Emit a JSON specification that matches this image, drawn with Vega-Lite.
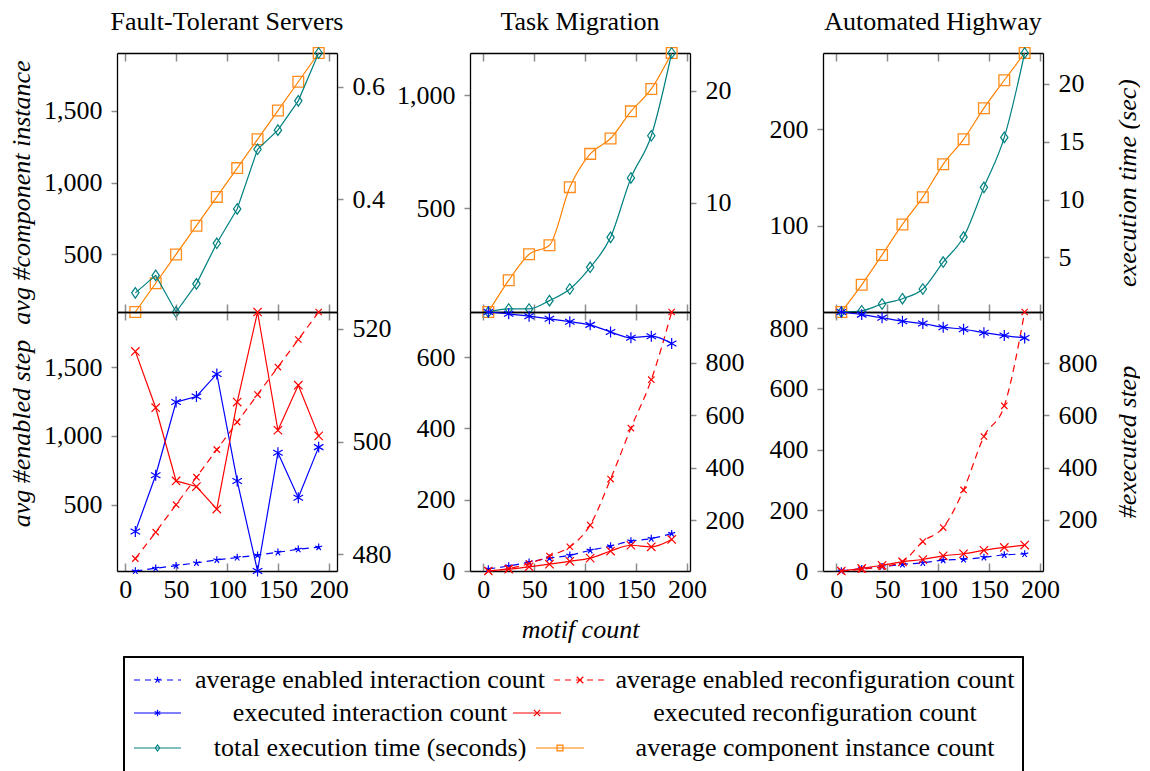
{
"$schema":"https://vega.github.io/schema/vega-lite/v6.json",
"autosize":{"type":"pad"},
"padding":{"left":7,"top":9,"right":0,"bottom":0},
"background":"white",
"config":{
 "font":"Liberation Serif",
 "view":{"stroke":null},
 "axis":{"labelFont":"Liberation Serif","labelFontSize":26,"labelColor":"black","titleFont":"Liberation Serif","titleFontSize":26,"titleFontStyle":"italic","titleFontWeight":"normal","titleColor":"black","domainColor":"black","domainWidth":1.3,"tickColor":"#8c8c8c","tickWidth":1.5,"grid":false,"labelFlush":false},
 "title":{"font":"Liberation Serif","fontSize":26,"fontWeight":"normal","color":"black","offset":10}
},
"data":{"values":[
{"p":"FTS","s":"comp","x":10,"v":100},{"p":"FTS","s":"comp","x":30,"v":300},{"p":"FTS","s":"comp","x":50,"v":500},{"p":"FTS","s":"comp","x":70,"v":700},{"p":"FTS","s":"comp","x":90,"v":900},{"p":"FTS","s":"comp","x":110,"v":1100},{"p":"FTS","s":"comp","x":130,"v":1300},{"p":"FTS","s":"comp","x":150,"v":1500},{"p":"FTS","s":"comp","x":170,"v":1700},{"p":"FTS","s":"comp","x":190,"v":1900},
{"p":"FTS","s":"time","x":10,"v":0.234},{"p":"FTS","s":"time","x":30,"v":0.265},{"p":"FTS","s":"time","x":50,"v":0.2},{"p":"FTS","s":"time","x":70,"v":0.25},{"p":"FTS","s":"time","x":90,"v":0.322},{"p":"FTS","s":"time","x":110,"v":0.383},{"p":"FTS","s":"time","x":130,"v":0.489},{"p":"FTS","s":"time","x":150,"v":0.523},{"p":"FTS","s":"time","x":170,"v":0.575},{"p":"FTS","s":"time","x":190,"v":0.66},
{"p":"FTS","s":"enInt","x":10,"v":18},{"p":"FTS","s":"enInt","x":30,"v":38},{"p":"FTS","s":"enInt","x":50,"v":57},{"p":"FTS","s":"enInt","x":70,"v":77},{"p":"FTS","s":"enInt","x":90,"v":99},{"p":"FTS","s":"enInt","x":110,"v":116},{"p":"FTS","s":"enInt","x":130,"v":133},{"p":"FTS","s":"enInt","x":150,"v":154},{"p":"FTS","s":"enInt","x":170,"v":176},{"p":"FTS","s":"enInt","x":190,"v":191},
{"p":"FTS","s":"enRec","x":10,"v":108},{"p":"FTS","s":"enRec","x":30,"v":300},{"p":"FTS","s":"enRec","x":50,"v":500},{"p":"FTS","s":"enRec","x":70,"v":700},{"p":"FTS","s":"enRec","x":90,"v":900},{"p":"FTS","s":"enRec","x":110,"v":1100},{"p":"FTS","s":"enRec","x":130,"v":1300},{"p":"FTS","s":"enRec","x":150,"v":1500},{"p":"FTS","s":"enRec","x":170,"v":1700},{"p":"FTS","s":"enRec","x":190,"v":1900},
{"p":"FTS","s":"exInt","x":10,"v":484},{"p":"FTS","s":"exInt","x":30,"v":494},{"p":"FTS","s":"exInt","x":50,"v":507},{"p":"FTS","s":"exInt","x":70,"v":508},{"p":"FTS","s":"exInt","x":90,"v":512},{"p":"FTS","s":"exInt","x":110,"v":493},{"p":"FTS","s":"exInt","x":130,"v":477},{"p":"FTS","s":"exInt","x":150,"v":498},{"p":"FTS","s":"exInt","x":170,"v":490},{"p":"FTS","s":"exInt","x":190,"v":499},
{"p":"FTS","s":"exRec","x":10,"v":516},{"p":"FTS","s":"exRec","x":30,"v":506},{"p":"FTS","s":"exRec","x":50,"v":493},{"p":"FTS","s":"exRec","x":70,"v":492},{"p":"FTS","s":"exRec","x":90,"v":488},{"p":"FTS","s":"exRec","x":110,"v":507},{"p":"FTS","s":"exRec","x":130,"v":523},{"p":"FTS","s":"exRec","x":150,"v":502},{"p":"FTS","s":"exRec","x":170,"v":510},{"p":"FTS","s":"exRec","x":190,"v":501},
{"p":"TM","s":"comp","x":5,"v":42},{"p":"TM","s":"comp","x":25,"v":182},{"p":"TM","s":"comp","x":45,"v":297},{"p":"TM","s":"comp","x":65,"v":337},{"p":"TM","s":"comp","x":85,"v":594},{"p":"TM","s":"comp","x":105,"v":741},{"p":"TM","s":"comp","x":125,"v":809},{"p":"TM","s":"comp","x":145,"v":929},{"p":"TM","s":"comp","x":165,"v":1028},{"p":"TM","s":"comp","x":185,"v":1187},
{"p":"TM","s":"time","x":5,"v":0.29},{"p":"TM","s":"time","x":25,"v":0.56},{"p":"TM","s":"time","x":45,"v":0.56},{"p":"TM","s":"time","x":65,"v":1.3},{"p":"TM","s":"time","x":85,"v":2.34},{"p":"TM","s":"time","x":105,"v":4.27},{"p":"TM","s":"time","x":125,"v":6.94},{"p":"TM","s":"time","x":145,"v":12.23},{"p":"TM","s":"time","x":165,"v":15.99},{"p":"TM","s":"time","x":185,"v":23.36},
{"p":"TM","s":"enInt","x":5,"v":6},{"p":"TM","s":"enInt","x":25,"v":14},{"p":"TM","s":"enInt","x":45,"v":25},{"p":"TM","s":"enInt","x":65,"v":36},{"p":"TM","s":"enInt","x":85,"v":44},{"p":"TM","s":"enInt","x":105,"v":58},{"p":"TM","s":"enInt","x":125,"v":70},{"p":"TM","s":"enInt","x":145,"v":84},{"p":"TM","s":"enInt","x":165,"v":91},{"p":"TM","s":"enInt","x":185,"v":105},
{"p":"TM","s":"enRec","x":5,"v":0},{"p":"TM","s":"enRec","x":25,"v":7},{"p":"TM","s":"enRec","x":45,"v":21},{"p":"TM","s":"enRec","x":65,"v":42},{"p":"TM","s":"enRec","x":85,"v":68},{"p":"TM","s":"enRec","x":105,"v":129},{"p":"TM","s":"enRec","x":125,"v":258},{"p":"TM","s":"enRec","x":145,"v":401},{"p":"TM","s":"enRec","x":165,"v":537},{"p":"TM","s":"enRec","x":185,"v":727},
{"p":"TM","s":"exInt","x":5,"v":993},{"p":"TM","s":"exInt","x":25,"v":986},{"p":"TM","s":"exInt","x":45,"v":977},{"p":"TM","s":"exInt","x":65,"v":967},{"p":"TM","s":"exInt","x":85,"v":956},{"p":"TM","s":"exInt","x":105,"v":944},{"p":"TM","s":"exInt","x":125,"v":917},{"p":"TM","s":"exInt","x":145,"v":895},{"p":"TM","s":"exInt","x":165,"v":901},{"p":"TM","s":"exInt","x":185,"v":873},
{"p":"TM","s":"exRec","x":5,"v":7},{"p":"TM","s":"exRec","x":25,"v":14},{"p":"TM","s":"exRec","x":45,"v":23},{"p":"TM","s":"exRec","x":65,"v":33},{"p":"TM","s":"exRec","x":85,"v":44},{"p":"TM","s":"exRec","x":105,"v":56},{"p":"TM","s":"exRec","x":125,"v":83},{"p":"TM","s":"exRec","x":145,"v":105},{"p":"TM","s":"exRec","x":165,"v":99},{"p":"TM","s":"exRec","x":185,"v":127},
{"p":"AH","s":"comp","x":5,"v":10.5},{"p":"AH","s":"comp","x":25,"v":38.7},{"p":"AH","s":"comp","x":45,"v":69.7},{"p":"AH","s":"comp","x":65,"v":101.4},{"p":"AH","s":"comp","x":85,"v":129.7},{"p":"AH","s":"comp","x":105,"v":163.8},{"p":"AH","s":"comp","x":125,"v":189.7},{"p":"AH","s":"comp","x":145,"v":222},{"p":"AH","s":"comp","x":165,"v":251},{"p":"AH","s":"comp","x":185,"v":279.3},
{"p":"AH","s":"time","x":5,"v":0.28},{"p":"AH","s":"time","x":25,"v":0.39},{"p":"AH","s":"time","x":45,"v":0.97},{"p":"AH","s":"time","x":65,"v":1.43},{"p":"AH","s":"time","x":85,"v":2.27},{"p":"AH","s":"time","x":105,"v":4.6},{"p":"AH","s":"time","x":125,"v":6.76},{"p":"AH","s":"time","x":145,"v":11.06},{"p":"AH","s":"time","x":165,"v":15.38},{"p":"AH","s":"time","x":185,"v":22.68},
{"p":"AH","s":"enInt","x":5,"v":0},{"p":"AH","s":"enInt","x":25,"v":7.7},{"p":"AH","s":"enInt","x":45,"v":14},{"p":"AH","s":"enInt","x":65,"v":22},{"p":"AH","s":"enInt","x":85,"v":27},{"p":"AH","s":"enInt","x":105,"v":36},{"p":"AH","s":"enInt","x":125,"v":38.5},{"p":"AH","s":"enInt","x":145,"v":45},{"p":"AH","s":"enInt","x":165,"v":53},{"p":"AH","s":"enInt","x":185,"v":56},
{"p":"AH","s":"enRec","x":5,"v":0},{"p":"AH","s":"enRec","x":25,"v":5.6},{"p":"AH","s":"enRec","x":45,"v":14},{"p":"AH","s":"enRec","x":65,"v":31},{"p":"AH","s":"enRec","x":85,"v":97},{"p":"AH","s":"enRec","x":105,"v":143},{"p":"AH","s":"enRec","x":125,"v":267},{"p":"AH","s":"enRec","x":145,"v":443},{"p":"AH","s":"enRec","x":165,"v":544},{"p":"AH","s":"enRec","x":185,"v":853},
{"p":"AH","s":"exInt","x":5,"v":995},{"p":"AH","s":"exInt","x":25,"v":985},{"p":"AH","s":"exInt","x":45,"v":973},{"p":"AH","s":"exInt","x":65,"v":960},{"p":"AH","s":"exInt","x":85,"v":951},{"p":"AH","s":"exInt","x":105,"v":937},{"p":"AH","s":"exInt","x":125,"v":929},{"p":"AH","s":"exInt","x":145,"v":916},{"p":"AH","s":"exInt","x":165,"v":905},{"p":"AH","s":"exInt","x":185,"v":896},
{"p":"AH","s":"exRec","x":5,"v":5},{"p":"AH","s":"exRec","x":25,"v":15},{"p":"AH","s":"exRec","x":45,"v":27},{"p":"AH","s":"exRec","x":65,"v":40},{"p":"AH","s":"exRec","x":85,"v":49},{"p":"AH","s":"exRec","x":105,"v":63},{"p":"AH","s":"exRec","x":125,"v":71},{"p":"AH","s":"exRec","x":145,"v":84},{"p":"AH","s":"exRec","x":165,"v":95},{"p":"AH","s":"exRec","x":185,"v":104}
]},
"columns":3,
"spacing":{"row":0,"column":133},
"bounds":"flush",
"align":"none",
"concat":[
  {"width":220,"height":259,"title":{"text":"Fault-Tolerant Servers"},
   "resolve":{"scale":{"y":"independent"},"axis":{"x":"independent"}},
   "layer":[
    {"encoding":{"x":{"field":"x","type":"quantitative","scale":{"domain":[-8,208],"nice":false,"zero":false},"axis":{"orient":"bottom","values":[0,50,100,150,200],"labels":false,"tickSize":-8,"title":null}},
                 "y":{"field":"v","type":"quantitative","scale":{"domain":[100,1900],"nice":false,"zero":false},"axis":{"orient":"left","values":[500,1000,1500],"format":",.0f","title":"avg #component instance","tickSize":6,"labelPadding":9,"minExtent":74,"maxExtent":74,"titlePadding":9,"titleY":139}}},
     "layer":[
      {"transform":[{"filter":"datum.p=='FTS'&&datum.s=='comp'"}],"layer":[{"mark":{"type":"line","color":"#ff8000","strokeWidth":1.2}},{"mark":{"type":"point","shape":"square","filled":false,"color":"#ff8c1a","size":115,"strokeWidth":1.3,"opacity":1}}]},
      {"data":{"values":[{"a":1}]},"mark":{"type":"point","shape":"M0,-1L0.75,0.9L0,0.35L-0.75,0.9Z","filled":true,"color":"black","size":45,"opacity":1},"encoding":{"x":{"datum":-8},"y":{"datum":1900}}}
     ]},
    {"encoding":{"x":{"field":"x","type":"quantitative","scale":{"domain":[-8,208],"nice":false,"zero":false},"axis":{"orient":"top","values":[0,50,100,150,200],"labels":false,"tickSize":-8,"title":null}},
                 "y":{"field":"v","type":"quantitative","scale":{"domain":[0.2,0.66],"nice":false,"zero":false},"axis":{"orient":"right","values":[0.4,0.6],"format":".1f","title":null,"tickSize":6,"labelPadding":9}}},
     "layer":[
      {"transform":[{"filter":"datum.p=='FTS'&&datum.s=='time'"}],"layer":[{"mark":{"type":"line","color":"#008080","strokeWidth":1.2}},{"mark":{"type":"point","shape":"M0,-1L0.7,0L0,1L-0.7,0Z","filled":false,"color":"#008080","size":110,"strokeWidth":1.2,"opacity":1}}]},
      {"data":{"values":[{"a":1}]},"mark":{"type":"point","shape":"M0,-1L0.75,0.9L0,0.35L-0.75,0.9Z","filled":true,"color":"black","size":45,"opacity":1},"encoding":{"x":{"datum":208},"y":{"datum":0.66}}}
     ]}
   ]},
  {"width":220,"height":259,"title":{"text":"Task Migration"},
   "resolve":{"scale":{"y":"independent"},"axis":{"x":"independent"}},
   "layer":[
    {"encoding":{"x":{"field":"x","type":"quantitative","scale":{"domain":[-13,203],"nice":false,"zero":false},"axis":{"orient":"bottom","values":[0,50,100,150,200],"labels":false,"tickSize":-8,"title":null}},
                 "y":{"field":"v","type":"quantitative","scale":{"domain":[42,1187],"nice":false,"zero":false},"axis":{"orient":"left","values":[500,1000],"format":",.0f","title":null,"tickSize":6,"labelPadding":9}}},
     "layer":[
      {"transform":[{"filter":"datum.p=='TM'&&datum.s=='comp'"}],"layer":[{"mark":{"type":"line","color":"#ff8000","strokeWidth":1.2,"interpolate":"monotone"}},{"mark":{"type":"point","shape":"square","filled":false,"color":"#ff8c1a","size":115,"strokeWidth":1.3,"opacity":1}}]},
      {"data":{"values":[{"a":1}]},"mark":{"type":"point","shape":"M0,-1L0.75,0.9L0,0.35L-0.75,0.9Z","filled":true,"color":"black","size":45,"opacity":1},"encoding":{"x":{"datum":-13},"y":{"datum":1187}}}
     ]},
    {"encoding":{"x":{"field":"x","type":"quantitative","scale":{"domain":[-13,203],"nice":false,"zero":false},"axis":{"orient":"top","values":[0,50,100,150,200],"labels":false,"tickSize":-8,"title":null}},
                 "y":{"field":"v","type":"quantitative","scale":{"domain":[0.29,23.36],"nice":false,"zero":false},"axis":{"orient":"right","values":[10,20],"title":null,"tickSize":6,"labelPadding":9}}},
     "layer":[
      {"transform":[{"filter":"datum.p=='TM'&&datum.s=='time'"}],"layer":[{"mark":{"type":"line","color":"#008080","strokeWidth":1.2,"interpolate":"monotone"}},{"mark":{"type":"point","shape":"M0,-1L0.7,0L0,1L-0.7,0Z","filled":false,"color":"#008080","size":110,"strokeWidth":1.2,"opacity":1}}]},
      {"data":{"values":[{"a":1}]},"mark":{"type":"point","shape":"M0,-1L0.75,0.9L0,0.35L-0.75,0.9Z","filled":true,"color":"black","size":45,"opacity":1},"encoding":{"x":{"datum":203},"y":{"datum":23.36}}}
     ]}
   ]},
  {"width":220,"height":259,"title":{"text":"Automated Highway"},
   "resolve":{"scale":{"y":"independent"},"axis":{"x":"independent"}},
   "layer":[
    {"encoding":{"x":{"field":"x","type":"quantitative","scale":{"domain":[-13,203],"nice":false,"zero":false},"axis":{"orient":"bottom","values":[0,50,100,150,200],"labels":false,"tickSize":-8,"title":null}},
                 "y":{"field":"v","type":"quantitative","scale":{"domain":[10.5,279.3],"nice":false,"zero":false},"axis":{"orient":"left","values":[100,200],"title":null,"tickSize":6,"labelPadding":9}}},
     "layer":[
      {"transform":[{"filter":"datum.p=='AH'&&datum.s=='comp'"}],"layer":[{"mark":{"type":"line","color":"#ff8000","strokeWidth":1.2,"interpolate":"monotone"}},{"mark":{"type":"point","shape":"square","filled":false,"color":"#ff8c1a","size":115,"strokeWidth":1.3,"opacity":1}}]},
      {"data":{"values":[{"a":1}]},"mark":{"type":"point","shape":"M0,-1L0.75,0.9L0,0.35L-0.75,0.9Z","filled":true,"color":"black","size":45,"opacity":1},"encoding":{"x":{"datum":-13},"y":{"datum":279.3}}}
     ]},
    {"encoding":{"x":{"field":"x","type":"quantitative","scale":{"domain":[-13,203],"nice":false,"zero":false},"axis":{"orient":"top","values":[0,50,100,150,200],"labels":false,"tickSize":-8,"title":null}},
                 "y":{"field":"v","type":"quantitative","scale":{"domain":[0.28,22.68],"nice":false,"zero":false},"axis":{"orient":"right","values":[5,10,15,20],"title":"execution time (sec)","titleAngle":270,"titleBaseline":"top","tickSize":6,"labelPadding":9,"minExtent":60,"maxExtent":60,"titlePadding":11}}},
     "layer":[
      {"transform":[{"filter":"datum.p=='AH'&&datum.s=='time'"}],"layer":[{"mark":{"type":"line","color":"#008080","strokeWidth":1.2,"interpolate":"monotone"}},{"mark":{"type":"point","shape":"M0,-1L0.7,0L0,1L-0.7,0Z","filled":false,"color":"#008080","size":110,"strokeWidth":1.2,"opacity":1}}]},
      {"data":{"values":[{"a":1}]},"mark":{"type":"point","shape":"M0,-1L0.75,0.9L0,0.35L-0.75,0.9Z","filled":true,"color":"black","size":45,"opacity":1},"encoding":{"x":{"datum":203},"y":{"datum":22.68}}}
     ]}
   ]},
  {"width":220,"height":259,
   "resolve":{"scale":{"y":"independent"},"axis":{"x":"independent"}},
   "layer":[
    {"encoding":{"x":{"field":"x","type":"quantitative","scale":{"domain":[-8,208],"nice":false,"zero":false},"axis":{"orient":"bottom","values":[0,50,100,150,200],"tickSize":-8,"labelPadding":13,"title":null}},
                 "y":{"field":"v","type":"quantitative","scale":{"domain":[18,1900],"nice":false,"zero":false},"axis":{"orient":"left","values":[500,1000,1500],"format":",.0f","title":"avg #enabled step","tickSize":6,"labelPadding":9,"minExtent":74,"maxExtent":74,"titlePadding":9,"titleY":121}}},
     "layer":[
      {"transform":[{"filter":"datum.p=='FTS'&&datum.s=='enInt'"}],"layer":[{"mark":{"type":"line","color":"#0000ff","strokeWidth":1.2,"strokeDash":[7,5]}},{"mark":{"type":"point","shape":"M0,0L0,-1M0,0L-0.95,-0.31M0,0L-0.59,0.81M0,0L0.59,0.81M0,0L0.95,-0.31","filled":false,"color":"#0000ff","size":55,"strokeWidth":1.2,"opacity":1}}]},
      {"transform":[{"filter":"datum.p=='FTS'&&datum.s=='enRec'"}],"layer":[{"mark":{"type":"line","color":"#ff0000","strokeWidth":1.2,"strokeDash":[7,5]}},{"mark":{"type":"point","shape":"M-1,-1L1,1M-1,1L1,-1","filled":false,"color":"#ff0000","size":40,"strokeWidth":1.2,"opacity":1}}]},
      {"data":{"values":[{"a":1}]},"mark":{"type":"point","shape":"M0,-1L0.75,0.9L0,0.35L-0.75,0.9Z","filled":true,"color":"black","size":45,"opacity":1},"encoding":{"x":{"datum":-8},"y":{"datum":1900}}}
     ]},
    {"encoding":{"x":{"field":"x","type":"quantitative","scale":{"domain":[-8,208],"nice":false,"zero":false},"axis":{"orient":"top","values":[0,50,100,150,200],"labels":false,"tickSize":-8,"title":null}},
                 "y":{"field":"v","type":"quantitative","scale":{"domain":[477,523],"nice":false,"zero":false},"axis":{"orient":"right","values":[480,500,520],"title":null,"tickSize":6,"labelPadding":9}}},
     "layer":[
      {"transform":[{"filter":"datum.p=='FTS'&&datum.s=='exInt'"}],"layer":[{"mark":{"type":"line","color":"#0000ff","strokeWidth":1.2}},{"mark":{"type":"point","shape":"M0,-1L0,1M-0.87,-0.5L0.87,0.5M-0.87,0.5L0.87,-0.5","filled":false,"color":"#0000ff","size":120,"strokeWidth":1.2,"opacity":1}}]},
      {"transform":[{"filter":"datum.p=='FTS'&&datum.s=='exRec'"}],"layer":[{"mark":{"type":"line","color":"#ff0000","strokeWidth":1.2}},{"mark":{"type":"point","shape":"M-1,-1L1,1M-1,1L1,-1","filled":false,"color":"#ff0000","size":70,"strokeWidth":1.2,"opacity":1}}]},
      {"data":{"values":[{"a":1}]},"mark":{"type":"point","shape":"M0,-1L0.75,0.9L0,0.35L-0.75,0.9Z","filled":true,"color":"black","size":45,"opacity":1},"encoding":{"x":{"datum":208},"y":{"datum":523}}}
     ]}
   ]},
  {"width":220,"height":259,
   "resolve":{"scale":{"y":"independent"},"axis":{"x":"independent"}},
   "layer":[
    {"encoding":{"x":{"field":"x","type":"quantitative","scale":{"domain":[-13,203],"nice":false,"zero":false},"axis":{"orient":"bottom","values":[0,50,100,150,200],"tickSize":-8,"labelPadding":13,"title":"motif count","titlePadding":14}},
                 "y":{"field":"v","type":"quantitative","scale":{"domain":[0,727],"nice":false,"zero":false},"axis":{"orient":"left","values":[0,200,400,600],"title":null,"tickSize":6,"labelPadding":9}}},
     "layer":[
      {"transform":[{"filter":"datum.p=='TM'&&datum.s=='enInt'"}],"layer":[{"mark":{"type":"line","color":"#0000ff","strokeWidth":1.2,"strokeDash":[7,5],"interpolate":"monotone"}},{"mark":{"type":"point","shape":"M0,0L0,-1M0,0L-0.95,-0.31M0,0L-0.59,0.81M0,0L0.59,0.81M0,0L0.95,-0.31","filled":false,"color":"#0000ff","size":55,"strokeWidth":1.2,"opacity":1}}]},
      {"transform":[{"filter":"datum.p=='TM'&&datum.s=='enRec'"}],"layer":[{"mark":{"type":"line","color":"#ff0000","strokeWidth":1.2,"strokeDash":[7,5],"interpolate":"monotone"}},{"mark":{"type":"point","shape":"M-1,-1L1,1M-1,1L1,-1","filled":false,"color":"#ff0000","size":40,"strokeWidth":1.2,"opacity":1}}]},
      {"data":{"values":[{"a":1}]},"mark":{"type":"point","shape":"M0,-1L0.75,0.9L0,0.35L-0.75,0.9Z","filled":true,"color":"black","size":45,"opacity":1},"encoding":{"x":{"datum":-13},"y":{"datum":727}}}
     ]},
    {"encoding":{"x":{"field":"x","type":"quantitative","scale":{"domain":[-13,203],"nice":false,"zero":false},"axis":{"orient":"top","values":[0,50,100,150,200],"labels":false,"tickSize":-8,"title":null}},
                 "y":{"field":"v","type":"quantitative","scale":{"domain":[7,993],"nice":false,"zero":false},"axis":{"orient":"right","values":[200,400,600,800],"title":null,"tickSize":6,"labelPadding":9}}},
     "layer":[
      {"transform":[{"filter":"datum.p=='TM'&&datum.s=='exInt'"}],"layer":[{"mark":{"type":"line","color":"#0000ff","strokeWidth":1.2,"interpolate":"monotone"}},{"mark":{"type":"point","shape":"M0,-1L0,1M-0.87,-0.5L0.87,0.5M-0.87,0.5L0.87,-0.5","filled":false,"color":"#0000ff","size":120,"strokeWidth":1.2,"opacity":1}}]},
      {"transform":[{"filter":"datum.p=='TM'&&datum.s=='exRec'"}],"layer":[{"mark":{"type":"line","color":"#ff0000","strokeWidth":1.2,"interpolate":"monotone"}},{"mark":{"type":"point","shape":"M-1,-1L1,1M-1,1L1,-1","filled":false,"color":"#ff0000","size":70,"strokeWidth":1.2,"opacity":1}}]},
      {"data":{"values":[{"a":1}]},"mark":{"type":"point","shape":"M0,-1L0.75,0.9L0,0.35L-0.75,0.9Z","filled":true,"color":"black","size":45,"opacity":1},"encoding":{"x":{"datum":203},"y":{"datum":993}}}
     ]}
   ]},
  {"width":220,"height":259,
   "resolve":{"scale":{"y":"independent"},"axis":{"x":"independent"}},
   "layer":[
    {"encoding":{"x":{"field":"x","type":"quantitative","scale":{"domain":[-13,203],"nice":false,"zero":false},"axis":{"orient":"bottom","values":[0,50,100,150,200],"tickSize":-8,"labelPadding":13,"title":null}},
                 "y":{"field":"v","type":"quantitative","scale":{"domain":[0,853],"nice":false,"zero":false},"axis":{"orient":"left","values":[0,200,400,600,800],"title":null,"tickSize":6,"labelPadding":9}}},
     "layer":[
      {"transform":[{"filter":"datum.p=='AH'&&datum.s=='enInt'"}],"layer":[{"mark":{"type":"line","color":"#0000ff","strokeWidth":1.2,"strokeDash":[7,5],"interpolate":"monotone"}},{"mark":{"type":"point","shape":"M0,0L0,-1M0,0L-0.95,-0.31M0,0L-0.59,0.81M0,0L0.59,0.81M0,0L0.95,-0.31","filled":false,"color":"#0000ff","size":55,"strokeWidth":1.2,"opacity":1}}]},
      {"transform":[{"filter":"datum.p=='AH'&&datum.s=='enRec'"}],"layer":[{"mark":{"type":"line","color":"#ff0000","strokeWidth":1.2,"strokeDash":[7,5],"interpolate":"monotone"}},{"mark":{"type":"point","shape":"M-1,-1L1,1M-1,1L1,-1","filled":false,"color":"#ff0000","size":40,"strokeWidth":1.2,"opacity":1}}]},
      {"data":{"values":[{"a":1}]},"mark":{"type":"point","shape":"M0,-1L0.75,0.9L0,0.35L-0.75,0.9Z","filled":true,"color":"black","size":45,"opacity":1},"encoding":{"x":{"datum":-13},"y":{"datum":853}}}
     ]},
    {"encoding":{"x":{"field":"x","type":"quantitative","scale":{"domain":[-13,203],"nice":false,"zero":false},"axis":{"orient":"top","values":[0,50,100,150,200],"labels":false,"tickSize":-8,"title":null}},
                 "y":{"field":"v","type":"quantitative","scale":{"domain":[5,995],"nice":false,"zero":false},"axis":{"orient":"right","values":[200,400,600,800],"title":"#executed step","titleAngle":270,"titleBaseline":"top","tickSize":6,"labelPadding":9,"minExtent":60,"maxExtent":60,"titlePadding":11}}},
     "layer":[
      {"transform":[{"filter":"datum.p=='AH'&&datum.s=='exInt'"}],"layer":[{"mark":{"type":"line","color":"#0000ff","strokeWidth":1.2,"interpolate":"monotone"}},{"mark":{"type":"point","shape":"M0,-1L0,1M-0.87,-0.5L0.87,0.5M-0.87,0.5L0.87,-0.5","filled":false,"color":"#0000ff","size":120,"strokeWidth":1.2,"opacity":1}}]},
      {"transform":[{"filter":"datum.p=='AH'&&datum.s=='exRec'"}],"layer":[{"mark":{"type":"line","color":"#ff0000","strokeWidth":1.2,"interpolate":"monotone"}},{"mark":{"type":"point","shape":"M-1,-1L1,1M-1,1L1,-1","filled":false,"color":"#ff0000","size":70,"strokeWidth":1.2,"opacity":1}}]},
      {"data":{"values":[{"a":1}]},"mark":{"type":"point","shape":"M0,-1L0.75,0.9L0,0.35L-0.75,0.9Z","filled":true,"color":"black","size":45,"opacity":1},"encoding":{"x":{"datum":203},"y":{"datum":995}}}
     ]}
   ]},
  {"width":220,"height":202,
   "data":{"values":[
    {"k":"enInt","lab":"average enabled interaction count","sx1":10,"sx2":57,"sm":33.5,"tx":246,"ly":23},
    {"k":"enRec","lab":"average enabled reconfiguration count","sx1":430,"sx2":482,"sm":456,"tx":691,"ly":23},
    {"k":"exInt","lab":"executed interaction count","sx1":10,"sx2":57,"sm":33.5,"tx":246,"ly":56},
    {"k":"exRec","lab":"executed reconfiguration count","sx1":389,"sx2":437,"sm":413,"tx":691,"ly":56},
    {"k":"time","lab":"total execution time (seconds)","sx1":10,"sx2":57,"sm":33.5,"tx":246,"ly":91},
    {"k":"comp","lab":"average component instance count","sx1":412,"sx2":460,"sm":436,"tx":691,"ly":91}
   ]},
   "encoding":{"y":{"field":"ly","type":"quantitative","scale":{"domain":[-86,116],"reverse":true,"nice":false,"zero":false},"axis":null}},
   "layer":[
    {"mark":{"type":"rect","fillOpacity":0,"stroke":"black","strokeWidth":1.2},
     "encoding":{"x":{"datum":0,"type":"quantitative","scale":{"domain":[-7,213],"nice":false,"zero":false},"axis":null},"x2":{"datum":899},"y":{"datum":0},"y2":{"datum":116}}},
    {"mark":{"type":"rule","strokeWidth":1.2},
     "encoding":{"x":{"field":"sx1","type":"quantitative","axis":null},"x2":{"field":"sx2"},
      "color":{"field":"k","type":"nominal","scale":{"domain":["enInt","enRec","exInt","exRec","time","comp"],"range":["#0000ff","#ff0000","#0000ff","#ff0000","#008080","#ff8000"]},"legend":null},
      "strokeDash":{"field":"k","type":"nominal","scale":{"domain":["enInt","enRec","exInt","exRec","time","comp"],"range":[[6,5],[6,5],[1,0],[1,0],[1,0],[1,0]]},"legend":null}}},
    {"mark":{"type":"point","filled":false,"opacity":1,"strokeWidth":1.2},
     "encoding":{"x":{"field":"sm","type":"quantitative","axis":null},
      "color":{"field":"k","type":"nominal","scale":{"domain":["enInt","enRec","exInt","exRec","time","comp"],"range":["#0000ff","#ff0000","#0000ff","#ff0000","#008080","#ff8000"]},"legend":null},
      "shape":{"field":"k","type":"nominal","scale":{"domain":["enInt","enRec","exInt","exRec","time","comp"],"range":["M0,0L0,-1M0,0L-0.95,-0.31M0,0L-0.59,0.81M0,0L0.59,0.81M0,0L0.95,-0.31","M-1,-1L1,1M-1,1L1,-1","M0,-1L0,1M-0.87,-0.5L0.87,0.5M-0.87,0.5L0.87,-0.5","M-1,-1L1,1M-1,1L1,-1","M0,-1L0.7,0L0,1L-0.7,0Z","square"]},"legend":null},
      "size":{"field":"k","type":"nominal","scale":{"domain":["enInt","enRec","exInt","exRec","time","comp"],"range":[45,35,100,60,90,100]},"legend":null}}},
    {"mark":{"type":"text","font":"Liberation Serif","fontSize":26,"align":"center","baseline":"middle","color":"black"},
     "encoding":{"x":{"field":"tx","type":"quantitative","axis":null},"text":{"field":"lab"}}}
   ]}
]
}
